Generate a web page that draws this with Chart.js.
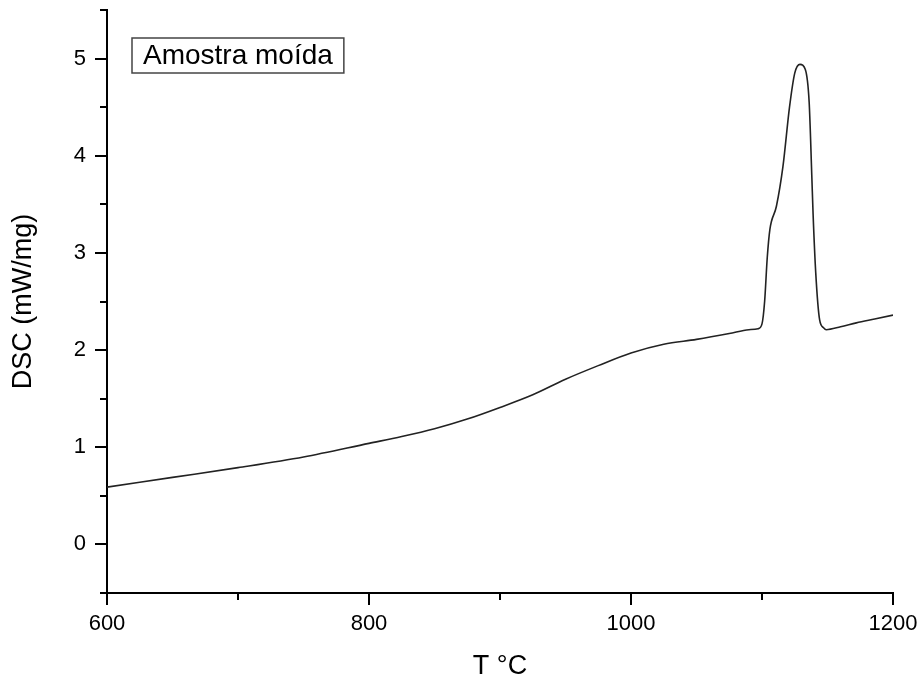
<!DOCTYPE html>
<html>
<head>
<meta charset="utf-8">
<script src="https://cdn.jsdelivr.net/npm/chart.js@4.4.0/dist/chart.umd.min.js"></script>
<style>
  html, body { margin: 0; padding: 0; background: #fff; }
</style>
</head>
<body>
<canvas id="dscChart" width="920" height="683"></canvas>
<script>
// Curva DSC da amostra moída
const temperatura = [600, 650, 700, 750, 800, 825, 850, 875, 900, 925, 950, 975, 1000, 1025, 1050, 1075,
  1090, 1097, 1100, 1102, 1104, 1106, 1111, 1116, 1121, 1125, 1129, 1133, 1136, 1138, 1139, 1141,
  1144, 1147, 1149, 1160, 1172, 1186, 1200];
const dsc = [0.59, 0.69, 0.79, 0.90, 1.04, 1.11, 1.19, 1.29, 1.41, 1.54, 1.70, 1.84, 1.97, 2.06, 2.11, 2.17,
  2.21, 2.22, 2.27, 2.50, 2.95, 3.24, 3.48, 3.89, 4.50, 4.85, 4.94, 4.89, 4.55, 3.80, 3.40, 2.80,
  2.31, 2.23, 2.21, 2.24, 2.28, 2.32, 2.36];
const rotulo = 'Amostra moída';

const fonte = '"Liberation Sans", Arial, sans-serif';

// ticks menores (sem rótulo), mais curtos que os principais
const ticksMenores = {
  id: 'ticksMenores',
  afterDraw(chart) {
    const ctx = chart.ctx;
    const area = chart.chartArea;
    const sx = chart.scales.x, sy = chart.scales.y;
    ctx.save();
    ctx.strokeStyle = '#000';
    ctx.lineWidth = 2;
    ctx.beginPath();
    sx.ticks.forEach(t => {
      if (t.value % 200 !== 0) {
        const px = Math.round(sx.getPixelForValue(t.value));
        ctx.moveTo(px, area.bottom);
        ctx.lineTo(px, area.bottom + 7);
      }
    });
    sy.ticks.forEach(t => {
      if (!Number.isInteger(t.value)) {
        const py = Math.round(sy.getPixelForValue(t.value));
        ctx.moveTo(area.left, py);
        ctx.lineTo(area.left - 7, py);
      }
    });
    ctx.stroke();
    ctx.restore();
  }
};

// caixa com o nome da amostra
const caixaLegenda = {
  id: 'caixaLegenda',
  afterDraw(chart) {
    const ctx = chart.ctx;
    const area = chart.chartArea;
    const texto = chart.data.datasets[0].label;
    ctx.save();
    ctx.font = '28px ' + fonte;
    const w = ctx.measureText(texto).width;
    const x = area.left + 25, y = area.top + 28;
    ctx.fillStyle = '#fff';
    ctx.fillRect(x, y, w + 22, 35);
    ctx.strokeStyle = '#444';
    ctx.lineWidth = 1.5;
    ctx.strokeRect(x, y, w + 22, 35);
    ctx.fillStyle = '#000';
    ctx.textBaseline = 'middle';
    ctx.fillText(texto, x + 11, y + 18);
    ctx.restore();
  }
};

new Chart(document.getElementById('dscChart'), {
  type: 'line',
  data: {
    datasets: [{
      label: rotulo,
      data: temperatura.map((t, i) => ({ x: t, y: dsc[i] })),
      borderColor: '#222',
      borderWidth: 1.6,
      pointRadius: 0,
      cubicInterpolationMode: 'monotone',
      fill: false
    }]
  },
  options: {
    responsive: false,
    animation: false,
    devicePixelRatio: 1,
    layout: { padding: { top: 10, right: 27, left: 0, bottom: 0 } },
    plugins: {
      legend: { display: false },
      tooltip: { enabled: false }
    },
    scales: {
      x: {
        type: 'linear',
        min: 600,
        max: 1200,
        afterFit: s => { s.height = 90; s.paddingLeft = 0; s.paddingRight = 0; },
        ticks: {
          stepSize: 100,
          padding: 6,
          maxRotation: 0,
          color: '#000',
          font: { family: fonte, size: 22 },
          callback: v => (v % 200 === 0 ? v : '')
        },
        grid: {
          drawOnChartArea: false,
          tickLength: 12,
          lineWidth: 2,
          tickColor: c => (c.tick && c.tick.value % 200 === 0 ? '#000' : 'rgba(0,0,0,0)')
        },
        border: { display: true, color: '#000', width: 2 },
        title: {
          display: true,
          text: 'T °C',
          color: '#000',
          font: { family: fonte, size: 27 },
          padding: { top: 0, bottom: 0 }
        }
      },
      y: {
        min: -0.5,
        max: 5.5,
        afterFit: s => { s.width = 107; s.paddingTop = 0; s.paddingBottom = 0; },
        ticks: {
          stepSize: 0.5,
          padding: 9,
          color: '#000',
          font: { family: fonte, size: 22 },
          callback: v => (Number.isInteger(v) ? v : '')
        },
        grid: {
          drawOnChartArea: false,
          tickLength: 12,
          lineWidth: 2,
          tickColor: c => (c.tick && Number.isInteger(c.tick.value) ? '#000' : 'rgba(0,0,0,0)')
        },
        border: { display: true, color: '#000', width: 2 },
        title: {
          display: true,
          text: 'DSC (mW/mg)',
          color: '#000',
          font: { family: fonte, size: 27 },
          padding: { top: 7, bottom: 0 }
        }
      }
    }
  },
  plugins: [ticksMenores, caixaLegenda]
});
</script>
</body>
</html>
